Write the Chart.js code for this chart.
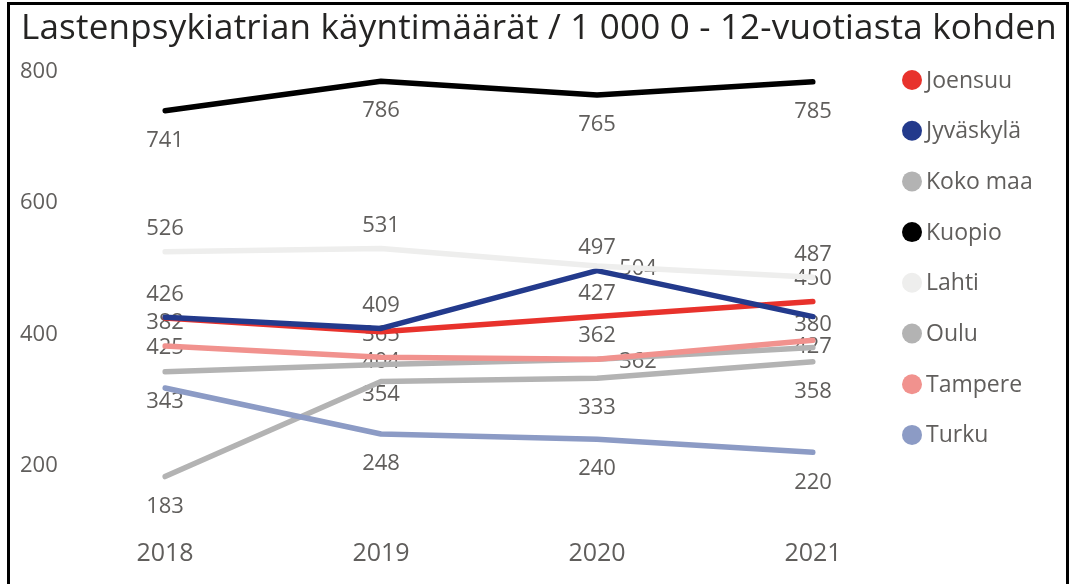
<!DOCTYPE html>
<html lang="fi">
<head>
<meta charset="utf-8">
<script src="https://cdn.jsdelivr.net/npm/chart.js@4.4.1/dist/chart.umd.min.js"></script>
<style>
  html, body { margin: 0; padding: 0; background: #fff; }
  #wrap { position: relative; width: 1069px; height: 584px; overflow: hidden; }
  #title {
    position: absolute; left: 21px; top: 6px;
    font-family: 'Segoe UI', 'Open Sans', sans-serif; font-size: 35px; line-height: 40px;
    letter-spacing: 0.2px; color: #252423; white-space: nowrap;
  }
  #frame {
    position: absolute; left: 7px; top: 2px; width: 1056px; height: 620px;
    border: 3px solid #000; pointer-events: none;
  }
  canvas { position: absolute; left: 0; top: 0; }
</style>
</head>
<body>
<div id="wrap">
  <canvas id="visitChart" width="1069" height="584"></canvas>
  <div id="title">Lastenpsykiatrian käyntimäärät / 1 000 0 - 12-vuotiasta kohden</div>
  <div id="frame"></div>
</div>
<script>
// vuodet ja kaupunkikohtaiset arvot
const years = ['2018', '2019', '2020', '2021'];
const joensuu = [425, 404, 427, 450];
const jyvaskyla = [426, 409, 497, 427];
const kokoMaa = [343, 354, 362, 380];
const kuopio = [741, 786, 765, 785];
const lahti = [526, 531, 504, 487];
const oulu = [183, 328, 333, 358];
const tampere = [382, 365, 362, 391];
const turku = [318, 248, 240, 220];

const seriesNames = ['Joensuu', 'Jyväskylä', 'Koko maa', 'Kuopio', 'Lahti', 'Oulu', 'Tampere', 'Turku'];
const seriesData = [joensuu, jyvaskyla, kokoMaa, kuopio, lahti, oulu, tampere, turku];
const seriesColors = ['#E8322C', '#233A8C', '#B3B3B3', '#000000', '#EEEEED', '#B3B3B3', '#F1928E', '#8C9BC5'];

// arvojen paikka: a = yläpuolella, b = alapuolella, r = oikealla, - = piilotettu
const labelSpots = [
    ['b', 'b', 'a', 'a'],
    ['a', 'a', 'a', 'b'],
    ['b', 'b', 'r', 'a'],
    ['b', 'b', 'b', 'b'],
    ['a', 'a', 'r', 'a'],
    ['b', '-', 'b', 'b'],
    ['a', 'a', 'a', '-'],
    ['-', 'b', 'b', 'b']
];

const fontFamily = "'Segoe UI', 'Open Sans', sans-serif";
const textGray = '#605E5C';
Chart.defaults.font.family = fontFamily;

const valueLabels = {
    id: 'valueLabels',
    beforeDatasetsDraw(chart) {
        const ctx = chart.ctx;
        ctx.save();
        ctx.font = `22px ${fontFamily}`;
        ctx.fillStyle = textGray;
        ctx.textAlign = 'center';
        ctx.textBaseline = 'middle';
        chart.data.datasets.forEach((ds, i) => {
            const meta = chart.getDatasetMeta(i);
            meta.data.forEach((pt, j) => {
                const spot = labelSpots[i][j];
                if (spot === '-') return;
                let dx = 0, dy = 0;
                if (spot === 'a') dy = -23;
                else if (spot === 'b') dy = 30;
                else if (spot === 'r') { dx = 41; dy = 3; }
                ctx.fillText(String(ds.data[j]), pt.x + dx, pt.y + dy);
            });
        });
        ctx.restore();
    }
};

const sideLegend = {
    id: 'sideLegend',
    afterDraw(chart) {
        const ctx = chart.ctx;
        const area = chart.chartArea;
        const cx = area.right + 99;
        ctx.save();
        ctx.font = `23px ${fontFamily}`;
        ctx.textBaseline = 'middle';
        ctx.textAlign = 'left';
        chart.data.datasets.forEach((ds, i) => {
            const cy = area.top + 8 + i * 50.7;
            ctx.beginPath();
            ctx.arc(cx, cy, 10, 0, Math.PI * 2);
            ctx.fillStyle = ds.borderColor;
            ctx.fill();
            ctx.fillStyle = textGray;
            ctx.fillText(ds.label, cx + 14, cy + 1);
        });
        ctx.restore();
    }
};

const datasets = seriesNames.map((name, i) => ({
    label: name,
    data: seriesData[i],
    borderColor: seriesColors[i],
    backgroundColor: seriesColors[i],
    borderWidth: 5.5,
    borderCapStyle: 'round',
    borderJoinStyle: 'round',
    pointRadius: 0,
    tension: 0,
    order: seriesNames.length - i
}));

new Chart(document.getElementById('visitChart'), {
    type: 'line',
    data: { labels: years, datasets: datasets },
    plugins: [valueLabels, sideLegend],
    options: {
        responsive: false,
        animation: false,
        layout: { padding: { left: 20, top: 72, right: 256, bottom: 7 } },
        plugins: {
            legend: { display: false },
            tooltip: { enabled: false },
            title: { display: false }
        },
        scales: {
            x: {
                offset: false,
                grid: { display: false, drawTicks: false },
                border: { display: false },
                ticks: { color: textGray, font: { size: 25 }, padding: 8, maxRotation: 0, autoSkip: false }
            },
            y: {
                min: 100,
                max: 800,
                grid: { display: false, drawTicks: false },
                border: { display: false },
                afterBuildTicks: (axis) => { axis.ticks = axis.ticks.filter(t => t.value % 200 === 0); },
                afterFit: (axis) => { axis.width = 145; },
                ticks: { stepSize: 100, crossAlign: 'far', color: textGray, font: { size: 22 }, padding: 0 }
            }
        }
    }
});
</script>
</body>
</html>
